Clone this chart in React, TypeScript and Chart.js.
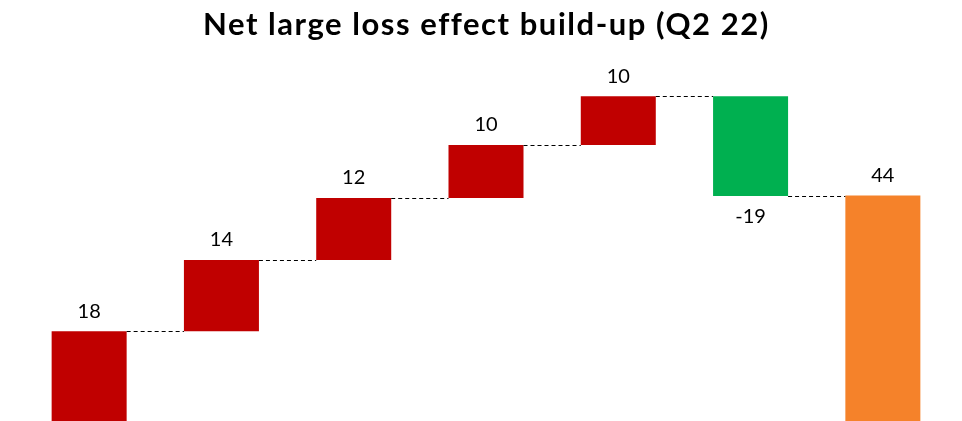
import React, { useEffect, useRef } from "react";
import { Chart, registerables } from "chart.js";

Chart.register(...registerables);

const titleText = "Net large loss effect build-up (Q2 22)";
const categories = ["Q2 a", "Q2 b", "Q2 c", "Q2 d", "Q2 e", "Release", "Total"];
const stepValues = [18.1, 13.6, 11.8, 10.1, 9.3, -19.0];
const totalValue = 44;
const valueLabels = ["18", "14", "12", "10", "10", "-19", "44"];
const barColors = ["#C00000", "#C00000", "#C00000", "#C00000", "#C00000", "#00B050", "#F5822A"];

function buildRanges(): [number, number][] {
  const out: [number, number][] = [];
  let cum = 0;
  for (const v of stepValues) {
    out.push([cum, cum + v]);
    cum += v;
  }
  out.push([0, totalValue]);
  return out;
}

const waterfallPlugin = {
  id: "waterfallExtras",
  afterDatasetsDraw(chart: any) {
    const { ctx } = chart;
    const meta = chart.getDatasetMeta(0);
    const ranges = chart.data.datasets[0].data as [number, number][];
    const y = chart.scales.y;
    ctx.save();
    // title
    ctx.fillStyle = "#000";
    ctx.font = "bold 31px Lato, sans-serif";
    ctx.textBaseline = "alphabetic";
    ctx.textAlign = "left";
    const targetW = 564;
    (ctx as any).letterSpacing = "0px";
    const w0 = ctx.measureText(titleText).width;
    const sp = Math.max(0, (targetW - w0) / (titleText.length - 1));
    (ctx as any).letterSpacing = sp.toFixed(2) + "px";
    ctx.fillText(titleText, 203, 35);
    (ctx as any).letterSpacing = "0px";
    // connectors
    ctx.strokeStyle = "#000";
    ctx.lineWidth = 1;
    ctx.setLineDash([4, 3]);
    for (let i = 0; i < meta.data.length - 1; i++) {
      const a = meta.data[i];
      const b = meta.data[i + 1];
      const level = ranges[i][1];
      const py = Math.round(y.getPixelForValue(level)) + 0.5;
      ctx.beginPath();
      ctx.moveTo(a.x + a.width / 2, py);
      ctx.lineTo(b.x - b.width / 2, py);
      ctx.stroke();
    }
    ctx.setLineDash([]);
    // labels
    ctx.fillStyle = "#000";
    ctx.font = "20px Lato, sans-serif";
    ctx.textAlign = "center";
    ctx.textBaseline = "middle";
    meta.data.forEach((el: any, i: number) => {
      const [s, e] = ranges[i];
      const neg = e < s;
      const top = y.getPixelForValue(Math.max(s, e));
      const bottom = y.getPixelForValue(Math.min(s, e));
      const ly = neg ? bottom + 21 : top - 20;
      ctx.fillText(valueLabels[i], el.x, ly);
    });
    ctx.restore();
  },
};

export default function App() {
  const ref = useRef<HTMLCanvasElement | null>(null);
  useEffect(() => {
    if (!ref.current) return;
    const chart = new Chart(ref.current, {
      type: "bar",
      data: {
        labels: categories,
        datasets: [
          {
            data: buildRanges() as any,
            backgroundColor: barColors,
            borderWidth: 0,
            categoryPercentage: 1,
            barPercentage: 0.567,
          },
        ],
      },
      options: {
        animation: false,
        responsive: true,
        maintainAspectRatio: false,
        layout: { padding: { left: 23, right: 13, top: 60, bottom: 0 } },
        scales: {
          x: { display: false },
          y: { display: false, min: 1, max: 69.8 },
        },
        plugins: {
          legend: { display: false },
          tooltip: { enabled: false },
          title: { display: false },
        },
      },
      plugins: [waterfallPlugin],
    });
    return () => chart.destroy();
  }, []);
  return (
    <div style={{ position: "fixed", top: 0, left: 0, width: 962, height: 421, background: "#fff" }}>
      <canvas ref={ref} />
    </div>
  );
}
